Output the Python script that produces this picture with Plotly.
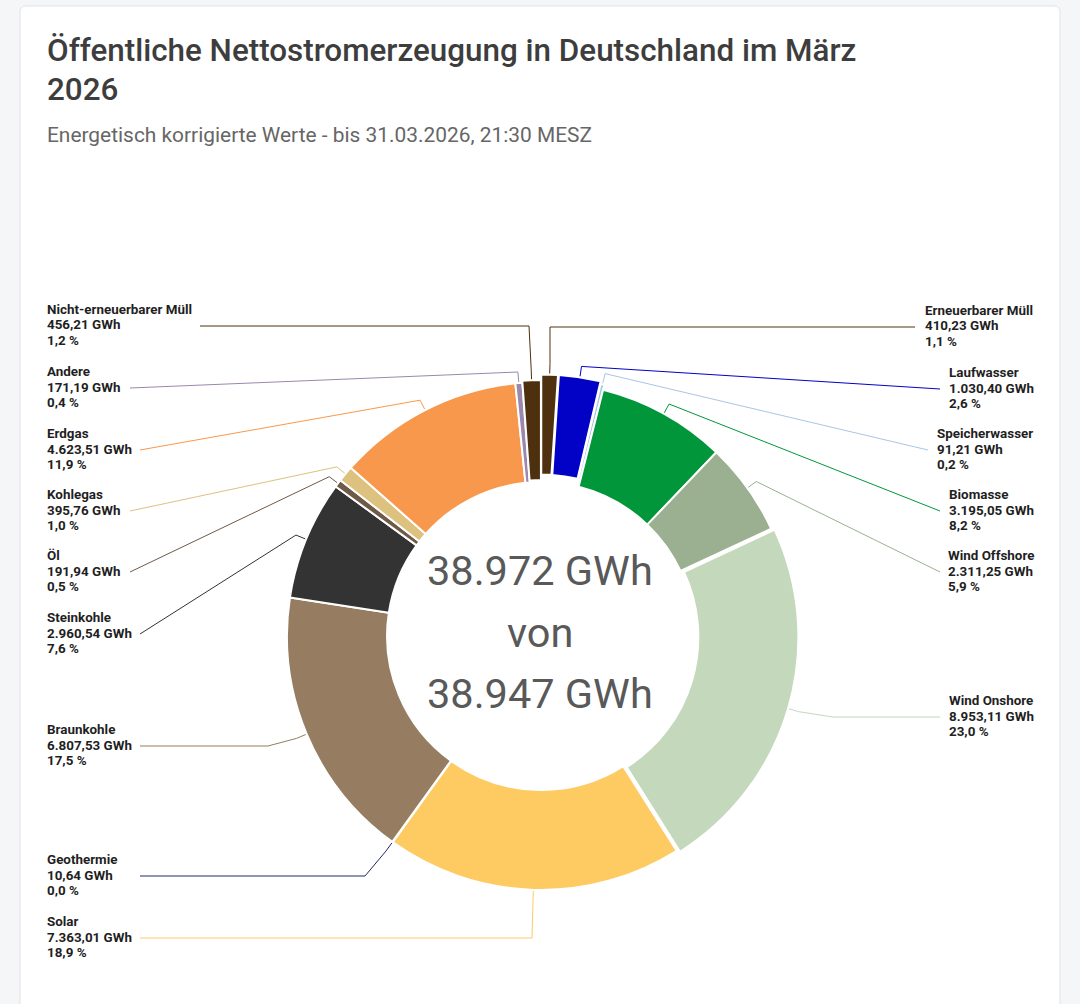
import math
import plotly.graph_objects as go

W, H = 1080, 1004

# ---------------- data ----------------
categories = ["Erneuerbarer Müll", "Laufwasser", "Speicherwasser", "Biomasse", "Wind Offshore",
              "Wind Onshore", "Solar", "Geothermie", "Braunkohle", "Steinkohle", "Öl", "Kohlegas",
              "Erdgas", "Andere", "Nicht-erneuerbarer Müll"]
values_gwh = [410.23, 1030.40, 91.21, 3195.05, 2311.25, 8953.11, 7363.01, 10.64, 6807.53, 2960.54,
              191.94, 395.76, 4623.51, 171.19, 456.21]
center_lines = ["38.972 GWh", "von", "38.947 GWh"]
title_lines = ["Öffentliche Nettostromerzeugung in Deutschland im März", "2026"]
subtitle_text = "Energetisch korrigierte Werte - bis 31.03.2026, 21:30 MESZ"

# ---------------- styles ----------------
colors = ["#50310f", "#0202c6", "#a9c6e2", "#01963a", "#9bb090", "#c4d8bb", "#fecb63", "#1e2a66",
          "#967c61", "#333333", "#6e5a46", "#dcc27e", "#f8984c", "#9a88ad", "#4d300e"]
pulls = [0.03, 0.03, 0.02, 0.0, 0.0, 0.014, 0.0, 0.0, 0.0, 0.0, 0.0, 0.0, 0.0, 0.0, 0.008]

# label layout (pixels)
label_x = [923, 947, 935, 947, 946, 947, 45, 45, 45, 45, 45, 45, 45, 45, 45]
label_y = [326, 388, 449, 510, 571, 716, 937, 875, 745, 633, 571, 510, 449, 387, 325]
conn_x = [915, 940, 928, 940, 940, 940, 140, 140, 140, 140, 130, 130, 140, 130, 200]
crook_x = [550, None, None, None, None, 833, 532, 365, 268, None, None, None, None, None, 529]
LINE_GAP = 15.3

CX, CY, R = 541, 636, 254
HOLE = 0.606
MAXPULL = max(pulls)
BREAK = 10
FONT = "Roboto, sans-serif"


def px(x):
    return x / W


def py(y):
    return 1 - y / H


def de_num(v, d=2):
    s = f"{v:,.{d}f}"
    return s.replace(",", "X").replace(".", ",").replace("X", ".")


total = sum(values_gwh)

fig = go.Figure()

box = R * (2 + 2 * MAXPULL)
fig.add_trace(go.Pie(
    labels=categories, values=values_gwh, sort=False, direction="clockwise", rotation=0,
    hole=HOLE, pull=pulls, textinfo="none",
    marker=dict(colors=colors, line=dict(color="#ffffff", width=2)),
    domain=dict(x=[px(CX - box / 2), px(CX + box / 2)], y=[py(CY + box / 2), py(CY - box / 2)]),
    showlegend=False, hovertemplate="%{label}: %{value:.2f} GWh<extra></extra>",
))

shapes = []
# card
x0, y0, x1, y1, rr = 20, 6, 1060, 1030, 6
card = (f"M {px(x0 + rr)},{py(y0)} L {px(x1 - rr)},{py(y0)} Q {px(x1)},{py(y0)} {px(x1)},{py(y0 + rr)} "
        f"L {px(x1)},{py(y1)} L {px(x0)},{py(y1)} L {px(x0)},{py(y0 + rr)} Q {px(x0)},{py(y0)} {px(x0 + rr)},{py(y0)} Z")
shapes.append(dict(type="path", path=card, xref="paper", yref="paper", layer="below",
                   fillcolor="#ffffff", line=dict(color="#e2e3e8", width=1)))

annotations = []
cum = 0.0
for i, (name, v) in enumerate(zip(categories, values_gwh)):
    mid = (cum + v / 2) / total * 2 * math.pi
    cum += v
    s, c = math.sin(mid), math.cos(mid)
    rt = R * (1 + pulls[i]) + 1
    tx, ty = CX + rt * s, CY - rt * c
    bx, by = CX + (rt + BREAK) * s, CY - (rt + BREAK) * c
    ly = label_y[i] + 1
    pts = [(conn_x[i], ly)]
    if crook_x[i] is not None:
        pts.append((crook_x[i], ly))
    pts += [(bx, by), (tx, ty)]
    path = "M " + " L ".join(f"{px(a)},{py(b)}" for a, b in pts)
    shapes.append(dict(type="path", path=path, xref="paper", yref="paper",
                       line=dict(color=colors[i], width=1)))
    pct = v / total * 100
    lines = [name, f"{de_num(v)} GWh", f"{de_num(pct, 1)} %"]
    for k, t in enumerate(lines):
        annotations.append(dict(x=px(label_x[i]), y=py(label_y[i] + (k - 1) * LINE_GAP),
                                xref="paper", yref="paper", text=f"<b>{t}</b>",
                                showarrow=False, xanchor="left", yanchor="middle", align="left",
                                font=dict(family=FONT, size=13.4, color="#1f1f1f")))

# centre text
for t, yy in zip(center_lines, [570, 632, 693]):
    annotations.append(dict(x=px(540), y=py(yy), xref="paper", yref="paper", text=t, showarrow=False,
                            xanchor="center", yanchor="middle",
                            font=dict(family=FONT, size=41.5, color="#595959")))

# title & subtitle
for t, yy in zip(title_lines, [51, 89]):
    annotations.append(dict(x=px(45), y=py(yy), xref="paper", yref="paper", text=t, showarrow=False,
                            xanchor="left", yanchor="middle", align="left",
                            font=dict(family=FONT, size=31.4, color="#3d3d3d", weight=500)))
annotations.append(dict(x=px(45), y=py(135), xref="paper", yref="paper", text=subtitle_text,
                        showarrow=False, xanchor="left", yanchor="middle", align="left",
                        font=dict(family=FONT, size=20.9, color="#666666")))

fig.update_layout(
    width=W, height=H, margin=dict(l=0, r=0, t=0, b=0),
    paper_bgcolor="#f5f6f8", plot_bgcolor="#f5f6f8",
    shapes=shapes, annotations=annotations, showlegend=False,
)

fig.write_html("out.html")
